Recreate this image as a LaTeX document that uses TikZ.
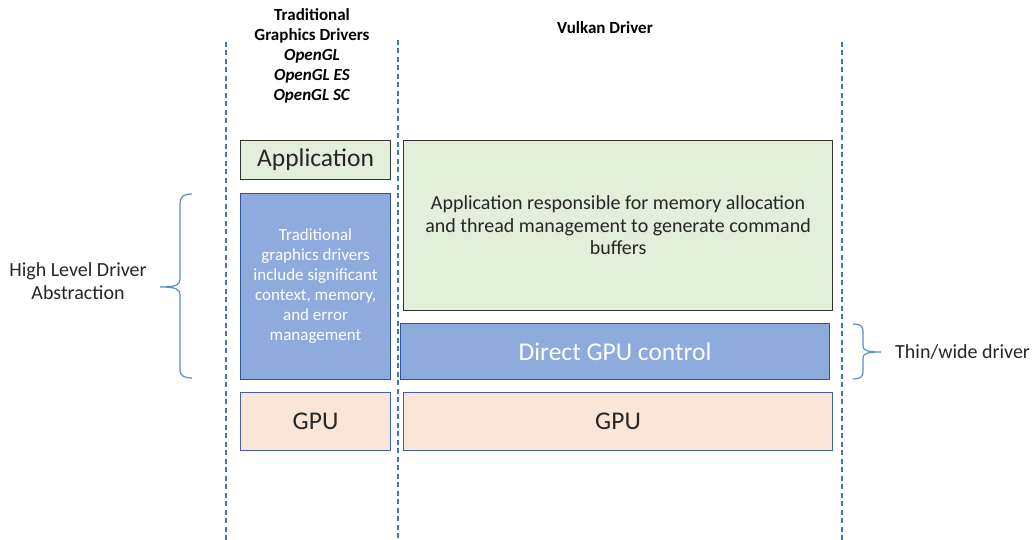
\documentclass[tikz,border=0pt]{standalone}
\usepackage{fontspec}
\setmainfont{Carlito}
\begin{document}
\begin{tikzpicture}[x=1pt,y=-1pt,
  guide/.style={draw=guideblue, line width=1.2pt, dash pattern=on 5pt off 3.5pt},
  boxbase/.style={anchor=north west, inner sep=0pt, line width=1.1pt},
  greenbox/.style={boxbase, fill=appgreen, draw=darkline, text=txt},
  bluebox/.style={boxbase, fill=drvblue, draw=drvborder, text=white},
  gpubox/.style={boxbase, fill=gpupeach, draw=gpuborder, text=txt},
  bigtxt/.style={font=\fontsize{25.5}{30}\selectfont},
  brace/.style={draw=braceblue, line width=1.2pt},
  lbl/.style={text=txt, font=\fontsize{20}{23}\selectfont, align=center, inner sep=0pt}
]
\definecolor{guideblue}{HTML}{4472C4}
\definecolor{appgreen}{HTML}{E2EFDA}
\definecolor{darkline}{HTML}{333333}
\definecolor{drvblue}{HTML}{8FAADC}
\definecolor{drvborder}{HTML}{2F5597}
\definecolor{gpupeach}{HTML}{FBE5D6}
\definecolor{gpuborder}{HTML}{3E64A8}
\definecolor{braceblue}{HTML}{5B8BD6}
\definecolor{txt}{HTML}{262626}
\useasboundingbox (0,0) rectangle (1032,540);

% guides
\coordinate (g1t) at (226,42); \coordinate (g1b) at (226,540);
\coordinate (g2t) at (398,40); \coordinate (g2b) at (398,540);
\coordinate (g3t) at (842,42); \coordinate (g3b) at (842,540);
\draw[guide] (g1t) -- (g1b);
\draw[guide] (g2t) -- (g2b);
\draw[guide] (g3t) -- (g3b);

% headers
\node[text=black, align=center, inner sep=0pt, font=\fontsize{17}{20}\selectfont\bfseries] (hdrL) at (312,56)
  {Traditional\\Graphics Drivers\\\textit{OpenGL}\\\textit{OpenGL ES}\\\textit{OpenGL SC}};
\node[text=black, inner sep=0pt, font=\fontsize{17}{20}\selectfont\bfseries] (hdrR) at (605,28) {Vulkan Driver};

% left column
\node[greenbox, bigtxt, minimum width=150, minimum height=39] (appL) at (240,140) {Application};
\node[bluebox, minimum width=150, minimum height=186, align=center, font=\fontsize{17}{20}\selectfont] (drvL) at (240,193)
  {Traditional\\graphics drivers\\include significant\\context, memory,\\and error\\management};
\node[gpubox, bigtxt, minimum width=150, minimum height=58] (gpuL) at (240,392) {GPU};

% right column
\node[greenbox, minimum width=429, minimum height=170, align=center, font=\fontsize{20}{22.5}\selectfont] (appR) at (403,140)
  {Application responsible for memory allocation\\and thread management to generate command\\buffers};
\node[bluebox, bigtxt, minimum width=429, minimum height=56] (drvR) at (400,323) {Direct GPU control};
\node[gpubox, bigtxt, minimum width=429, minimum height=58] (gpuR) at (403,392) {GPU};

% braces
\draw[brace] (192,194) .. controls (184,194) and (180,196) .. (180,204) -- (180,279)
  .. controls (180,285) and (176,287) .. (160,287)
  .. controls (176,287) and (180,289) .. (180,295) -- (180,369)
  .. controls (180,376) and (184,378) .. (192,378);
\draw[brace] (853,324) .. controls (860,324) and (863,326) .. (863,331) -- (863,346)
  .. controls (863,350) and (866,352) .. (881,352)
  .. controls (866,352) and (863,354) .. (863,358) -- (863,372)
  .. controls (863,377) and (860,379) .. (853,379);

% labels
\node[lbl] (hlda) at (78,281) {High Level Driver\\Abstraction};
\node[lbl, anchor=west] (thin) at (895,352) {Thin/wide driver};
\end{tikzpicture}
\end{document}
